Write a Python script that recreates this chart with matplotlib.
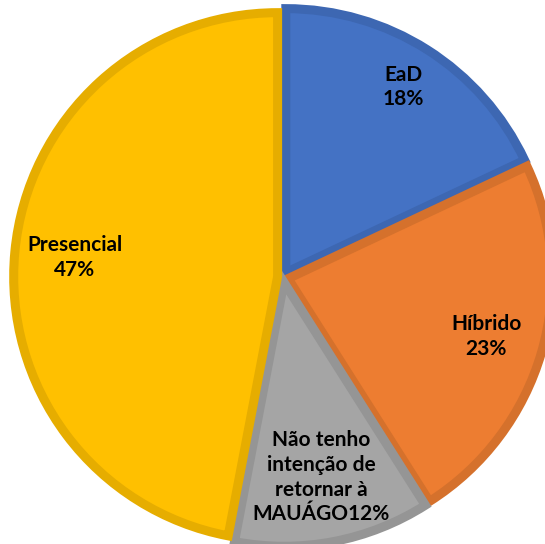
import numpy as np
import matplotlib.pyplot as plt

labels = ['EaD', 'Híbrido', 'Não tenho\nintenção de\nretornar à\nMAUÁGO', 'Presencial']
pcts = [18, 23, 12, 47]
colors = ['#4472C4', '#ED7D31', '#A5A5A5', '#FFC000']
edges = ['#3D67B2', '#D5712C', '#959595', '#E6AD00']

fig = plt.figure(figsize=(5.45, 5.44), dpi=100)
ax = fig.add_axes([0, 0, 1, 1])

wedges, _ = ax.pie(pcts, colors=colors, startangle=90, counterclock=False,
                   explode=[0.02] * 4, radius=0.985,
                   wedgeprops=dict(linewidth=6.5, joinstyle='miter'))
for w, ec in zip(wedges, edges):
    w.set_edgecolor(ec)

dists = [0.82, 0.77, 0.74, 0.76]
for w, lab, p, d in zip(wedges, labels, pcts, dists):
    mid = np.deg2rad((w.theta1 + w.theta2) / 2)
    cx, cy = w.center
    if lab.endswith('MAUÁGO'):
        txt = lab + f'{p}%'
    else:
        txt = f'{lab}\n{p}%'
    ax.text(cx + d * np.cos(mid), cy + d * np.sin(mid), txt, ha='center', va='center',
            fontsize=15, fontweight='bold', family=['Lato', 'DejaVu Sans'],
            linespacing=1.3)

ax.set_xlim(-1.056, 0.978)
ax.set_ylim(-0.996, 1.034)
ax.set_aspect('equal')
ax.axis('off')
fig.savefig('out.png', dpi=100)
